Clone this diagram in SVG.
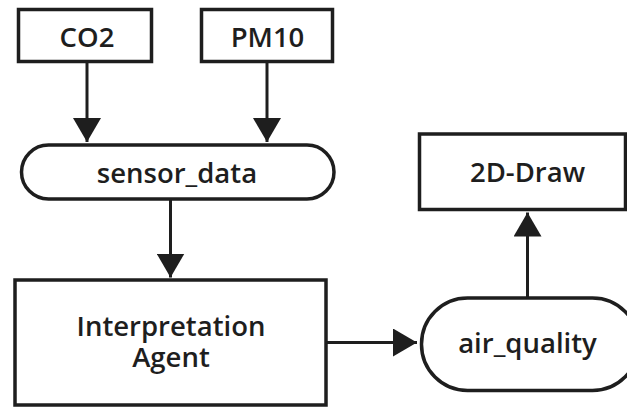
<svg xmlns="http://www.w3.org/2000/svg" width="627" height="407" viewBox="0 0 627 407">
  <defs>
    <marker id="arrow" markerUnits="userSpaceOnUse" markerWidth="24" markerHeight="28" refX="24" refY="14" orient="auto">
      <path d="M0,0 L24,14 L0,28 z" fill="#1e1e1e"/>
    </marker>
    <style>
      .shape { fill: #ffffff; stroke: #1e1e1e; stroke-width: 3.5; }
      .edge { fill: none; stroke: #1e1e1e; stroke-width: 3; marker-end: url(#arrow); }
      .label { font-family: "Open Sans", "Noto Sans", sans-serif; font-size: 27.5px; font-weight: 600; fill: #1e1e1e; text-anchor: middle; }
    </style>
  </defs>
  <rect width="627" height="407" fill="#ffffff"/>

  <g id="connectors">
    <line class="edge" x1="87" y1="63" x2="87" y2="142"/>
    <line class="edge" x1="267" y1="63" x2="267" y2="142"/>
    <line class="edge" x1="170.5" y1="200" x2="170.5" y2="277.5"/>
    <line class="edge" x1="327" y1="342.5" x2="417" y2="342.5"/>
    <line class="edge" x1="527.5" y1="297" x2="527.5" y2="212.5"/>
  </g>

  <g id="co2">
    <rect class="shape" x="18.5" y="9.5" width="133" height="52"/>
    <text class="label" x="87" y="47">CO2</text>
  </g>
  <g id="pm10">
    <rect class="shape" x="201.5" y="9.5" width="131" height="52"/>
    <text class="label" x="267.5" y="47">PM10</text>
  </g>
  <g id="sensor_data">
    <rect class="shape" x="21.5" y="145" width="312.5" height="54" rx="27" ry="27"/>
    <text class="label" x="177" y="183">sensor_data</text>
  </g>
  <g id="interpretation_agent">
    <rect class="shape" x="15" y="280" width="311" height="125"/>
    <text class="label" x="171" y="335.5">Interpretation</text>
    <text class="label" x="171" y="366.5">Agent</text>
  </g>
  <g id="draw_2d">
    <rect class="shape" x="419.5" y="134" width="206" height="75.5"/>
    <text class="label" x="527.5" y="182">2D-Draw</text>
  </g>
  <g id="air_quality">
    <rect class="shape" x="421.5" y="298" width="217" height="92.5" rx="46" ry="46"/>
    <text class="label" x="527.5" y="352.5">air_quality</text>
  </g>
</svg>
